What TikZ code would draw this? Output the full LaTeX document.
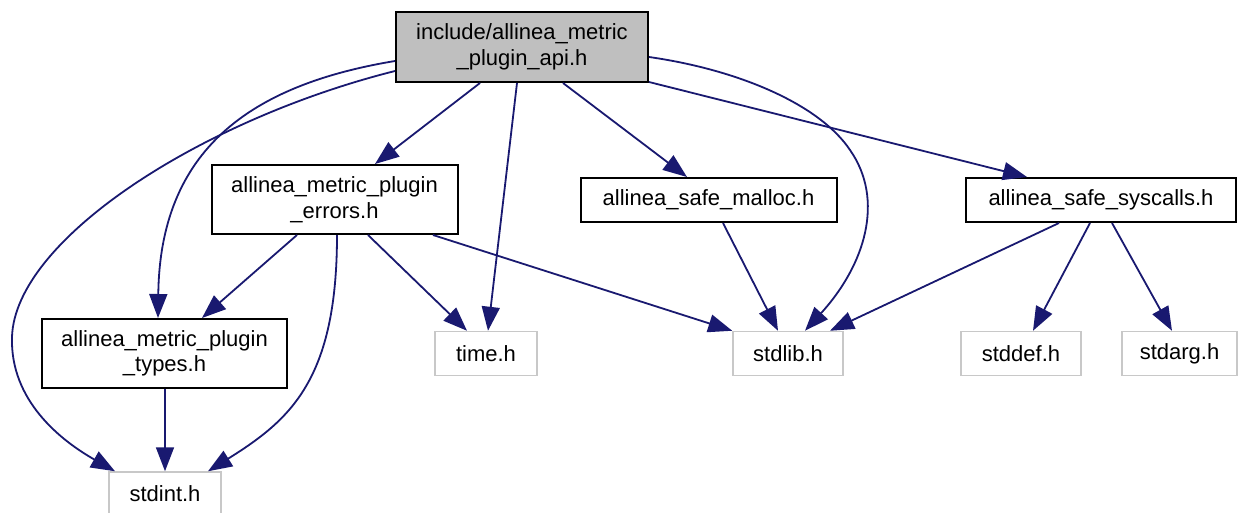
\documentclass[tikz,border=0pt]{standalone}
\usepackage{fontspec}
\setmainfont{Liberation Sans}
\usetikzlibrary{arrows.meta}
\definecolor{edgeblue}{HTML}{191970}
\definecolor{rootgray}{HTML}{BFBFBF}
\definecolor{extgray}{HTML}{C8C8C8}
\begin{document}
\begin{tikzpicture}[x=1pt,y=-1pt,
  base/.style={rectangle, inner sep=0pt, align=center, font=\fontsize{22}{25.5}\selectfont, text=black},
  docbox/.style={base, draw=black, line width=2pt},
  rootbox/.style={docbox, fill=rootgray},
  extbox/.style={base, draw=extgray, line width=1.5pt},
  edge/.style={draw=edgeblue, line width=1.8pt, -{Triangle[length=24pt,width=18pt]}}
]
\useasboundingbox[fill=white] (0,0) rectangle (1239,512);

\node[rootbox, minimum width=252pt, minimum height=70pt] (root) at (522,47) {include/allinea\_metric\\\_plugin\_api.h};
\node[docbox, minimum width=246pt, minimum height=69pt] (errors) at (334.5,199.5) {allinea\_metric\_plugin\\\_errors.h};
\node[docbox, minimum width=256pt, minimum height=44pt] (malloc) at (708.5,200) {allinea\_safe\_malloc.h};
\node[docbox, minimum width=270pt, minimum height=44pt] (syscalls) at (1101,200) {allinea\_safe\_syscalls.h};
\node[docbox, minimum width=245pt, minimum height=69pt] (types) at (164.5,353.5) {allinea\_metric\_plugin\\\_types.h};
\node[extbox, minimum width=102pt, minimum height=44pt] (time) at (486,353.5) {time.h};
\node[extbox, minimum width=110pt, minimum height=44pt] (stdlib) at (788,353.5) {stdlib.h};
\node[extbox, minimum width=120pt, minimum height=44pt] (stddef) at (1021,353.5) {stddef.h};
\node[extbox, minimum width=115pt, minimum height=44pt] (stdarg) at (1179.5,353.5) {stdarg.h};
\node[extbox, minimum width=112pt, minimum height=44pt] (stdint) at (165,494) {stdint.h};

% root edges
\draw[edge] ([xshift=-42pt]root.south) -- ([xshift=40.5pt]errors.north);
\draw[edge] ([xshift=-5pt]root.south) -- ([xshift=2pt]time.north);
\draw[edge] ([xshift=41pt]root.south) -- ([xshift=-21.5pt]malloc.north);
\draw[edge] ([yshift=1pt]root.south east) -- ([xshift=-74pt]syscalls.north);
\draw[edge] ([yshift=-10pt]root.east) .. controls (740,70) and (820,105) .. (850,150)
   .. controls (885,200) and (865,265) .. ([xshift=17pt]stdlib.north);
\draw[edge] ([yshift=-14pt]root.west) .. controls (250,85) and (160,150) .. ([xshift=-6.5pt]types.north);
\draw[edge] ([yshift=-24pt]root.west) .. controls (200,120) and (15,240) .. (12,337)
   .. controls (10,400) and (60,440) .. ([xshift=-50pt]stdint.north);

% errors edges
\draw[edge] ([xshift=-37.5pt]errors.south) -- ([xshift=37.5pt]types.north);
\draw[edge] ([xshift=33.5pt]errors.south) -- ([xshift=-19pt]time.north);
\draw[edge] ([xshift=98.5pt]errors.south) -- (stdlib.north west);
\draw[edge] ([xshift=2.5pt]errors.south) .. controls (337,380) and (290,420) .. ([xshift=43pt]stdint.north);

% types
\draw[edge] ([xshift=0.5pt]types.south) -- (stdint.north);

% malloc
\draw[edge] ([xshift=14.5pt]malloc.south) -- ([xshift=-10pt]stdlib.north);

% syscalls
\draw[edge] ([xshift=-42pt]syscalls.south) -- ([xshift=42pt]stdlib.north);
\draw[edge] ([xshift=-11pt]syscalls.south) -- ([xshift=12pt]stddef.north);
\draw[edge] ([xshift=11pt]syscalls.south) -- ([xshift=-7.5pt]stdarg.north);
\end{tikzpicture}
\end{document}
